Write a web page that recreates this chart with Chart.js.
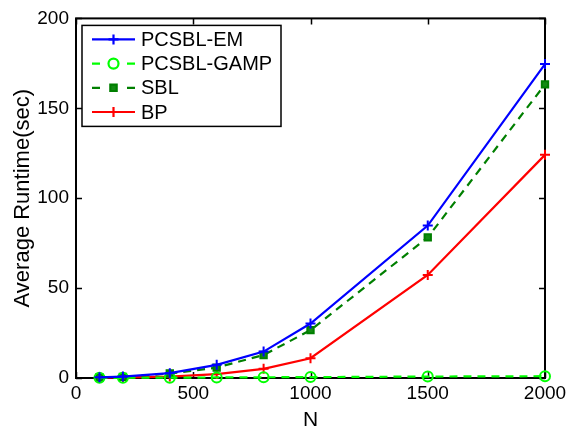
<!DOCTYPE html>
<html>
<head>
<meta charset="utf-8">
<script src="https://cdn.jsdelivr.net/npm/chart.js@4.4.1/dist/chart.umd.min.js"></script>
<style>
  html, body { margin: 0; padding: 0; background: #fff; }
  #wrap { width: 575px; height: 430px; position: relative; }
</style>
</head>
<body>
<div id="wrap"><canvas id="runtimeChart" width="575" height="430"></canvas></div>
<script>
// N values (x axis)
const nValues = [100, 200, 400, 600, 800, 1000, 1500, 2000];

// average runtimes (sec)
const emTimes   = [0.4, 0.8, 2.7, 7.3, 14.7, 30.3, 84.8, 174.6];
const gampTimes = [0.1, 0.1, 0.2, 0.3, 0.4, 0.5, 0.8, 1.0];
const sblTimes  = [0.3, 0.6, 2.5, 5.8, 12.8, 26.6, 78.2, 163.3];
const bpTimes   = [0.2, 0.3, 0.8, 2.2, 5.1, 11.0, 57.3, 124.1];

const xTicks = [0, 500, 1000, 1500, 2000];
const yTicks = [0, 50, 100, 150, 200];

const fontFamily = '"Liberation Sans", Arial, Helvetica, sans-serif';

function toPoints(vals) {
  return nValues.map((n, i) => ({ x: n, y: vals[i] }));
}

// frame + inward ticks, matlab style
const frameTicks = {
  id: 'frameTicks',
  beforeDatasetsDraw(chart) {
    const { ctx, chartArea: a, scales } = chart;
    ctx.save();
    ctx.strokeStyle = '#000';
    ctx.lineWidth = 2;
    ctx.strokeRect(a.left, a.top, a.right - a.left, a.bottom - a.top);
    ctx.lineWidth = 1.5;
    const len = 6;
    xTicks.forEach(v => {
      const px = Math.round(scales.x.getPixelForValue(v)) + 0.5;
      ctx.beginPath();
      ctx.moveTo(px, a.bottom); ctx.lineTo(px, a.bottom - len);
      ctx.moveTo(px, a.top); ctx.lineTo(px, a.top + len);
      ctx.stroke();
    });
    yTicks.forEach(v => {
      const py = Math.round(scales.y.getPixelForValue(v)) + 0.5;
      ctx.beginPath();
      ctx.moveTo(a.left, py); ctx.lineTo(a.left + len, py);
      ctx.moveTo(a.right, py); ctx.lineTo(a.right - len, py);
      ctx.stroke();
    });
    ctx.restore();
  }
};

// boxed legend inside the top-left corner of the plot
const boxLegend = {
  id: 'boxLegend',
  afterDraw(chart) {
    const { ctx, chartArea: a } = chart;
    const x0 = a.left + 6, y0 = a.top + 7;
    const w = 199, rowH = 24.2, h = 101;
    ctx.save();
    ctx.fillStyle = '#fff';
    ctx.fillRect(x0, y0, w, h);
    ctx.strokeStyle = '#000';
    ctx.lineWidth = 1.5;
    ctx.strokeRect(x0, y0, w, h);
    ctx.font = '20px ' + fontFamily;
    ctx.textBaseline = 'middle';
    chart.data.datasets.forEach((ds, i) => {
      const cy = y0 + 14 + i * rowH;
      const lx1 = x0 + 10, lx2 = x0 + 53;
      ctx.strokeStyle = ds.borderColor;
      ctx.lineWidth = ds.borderWidth;
      ctx.beginPath();
      if (ds.borderDash) {
        ctx.moveTo(lx1, cy); ctx.lineTo(lx1 + 8, cy);
        ctx.moveTo(lx2 - 8, cy); ctx.lineTo(lx2, cy);
      } else {
        ctx.moveTo(lx1, cy); ctx.lineTo(lx2, cy);
      }
      ctx.stroke();
      ctx.fillStyle = ds.pointBackgroundColor;
      ctx.strokeStyle = ds.borderColor;
      Chart.helpers.drawPoint(ctx, {
        pointStyle: ds.pointStyle,
        radius: ds.pointRadius,
        borderWidth: ds.pointBorderWidth
      }, (lx1 + lx2) / 2, cy);
      ctx.fillStyle = '#000';
      ctx.fillText(ds.label, x0 + 59, cy + 1);
    });
    ctx.restore();
  }
};

new Chart(document.getElementById('runtimeChart'), {
  type: 'line',
  data: {
    datasets: [
      {
        label: 'PCSBL-EM',
        data: toPoints(emTimes),
        borderColor: '#0000ff',
        pointBackgroundColor: '#0000ff',
        borderWidth: 2.2,
        pointStyle: 'cross',
        pointRadius: 5,
        pointBorderWidth: 2,
        clip: false,
        tension: 0
      },
      {
        label: 'PCSBL-GAMP',
        data: toPoints(gampTimes),
        borderColor: '#00ff00',
        pointBackgroundColor: 'rgba(255,255,255,0)',
        borderWidth: 2.2,
        borderDash: [8, 6],
        pointStyle: 'circle',
        pointRadius: 5,
        pointBorderWidth: 2,
        clip: false,
        tension: 0
      },
      {
        label: 'SBL',
        data: toPoints(sblTimes),
        borderColor: '#007f00',
        pointBackgroundColor: '#138a13',
        borderWidth: 2.2,
        borderDash: [8, 6],
        pointStyle: 'rect',
        pointRadius: 4.5,
        pointBorderWidth: 2,
        clip: false,
        tension: 0
      },
      {
        label: 'BP',
        data: toPoints(bpTimes),
        borderColor: '#ff0000',
        pointBackgroundColor: '#ff0000',
        borderWidth: 2.2,
        pointStyle: 'cross',
        pointRadius: 5,
        pointBorderWidth: 2,
        clip: false,
        tension: 0
      }
    ]
  },
  options: {
    responsive: false,
    animation: false,
    layout: { padding: { top: 15, right: 30, left: 0, bottom: 0 } },
    plugins: {
      legend: { display: false },
      tooltip: { enabled: false }
    },
    scales: {
      x: {
        type: 'linear',
        min: 0,
        max: 2000,
        afterBuildTicks(scale) { scale.ticks = xTicks.map(v => ({ value: v })); },
        afterFit(scale) { scale.height = 52; },
        grid: { display: false, drawTicks: false },
        border: { display: false },
        ticks: {
          color: '#000',
          font: { family: fontFamily, size: 19 },
          padding: 4,
          maxRotation: 0,
          callback: v => String(v)
        },
        title: {
          display: true,
          text: 'N',
          color: '#000',
          font: { family: fontFamily, size: 21 },
          padding: { top: 0, bottom: -3 }
        }
      },
      y: {
        type: 'linear',
        min: 0,
        max: 200,
        afterBuildTicks(scale) { scale.ticks = yTicks.map(v => ({ value: v })); },
        afterFit(scale) { scale.width = 76; },
        grid: { display: false, drawTicks: false },
        border: { display: false },
        ticks: {
          color: '#000',
          font: { family: fontFamily, size: 19 },
          padding: 7,
          callback: v => String(v)
        },
        title: {
          display: true,
          text: 'Average Runtime(sec)',
          color: '#000',
          font: { family: fontFamily, size: 22 },
          padding: { top: 10, bottom: 0 }
        }
      }
    }
  },
  plugins: [frameTicks, boxLegend]
});
</script>
</body>
</html>
